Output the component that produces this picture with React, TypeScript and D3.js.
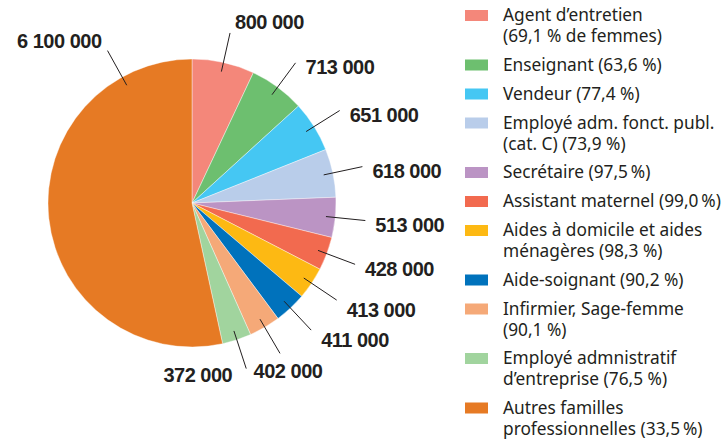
import React from "react";
import * as d3 from "d3";

const categories: string[] = [
  "Agent d\u2019entretien\n(69,1 % de femmes)",
  "Enseignant (63,6 %)",
  "Vendeur (77,4 %)",
  "Employé adm. fonct. publ.\n(cat. C) (73,9 %)",
  "Secrétaire (97,5\u202F%)",
  "Assistant maternel (99,0\u202F%)",
  "Aides à domicile et aides\nménagères (98,3 %)",
  "Aide-soignant (90,2 %)",
  "Infirmier, Sage-femme\n(90,1 %)",
  "Employé admnistratif\nd\u2019entreprise (76,5 %)",
  "Autres familles\nprofessionnelles (33,5\u202F%)",
];

const values: number[] = [800000, 713000, 651000, 618000, 513000, 428000, 413000, 411000, 402000, 372000, 6100000];

const colors: string[] = [
  "#f4877a",
  "#6dbf6f",
  "#45c7f3",
  "#b9cdea",
  "#bb94c4",
  "#f26a4f",
  "#fdb913",
  "#0072bc",
  "#f5a978",
  "#a1d49e",
  "#e67a24",
];

const W = 726;
const H = 439;
const cx = 192;
const cy = 203;
const R = 144;

const locale = d3.formatLocale({ decimal: ",", thousands: " ", grouping: [3], currency: ["", " €"] });
const fmt = locale.format(",d");

export default function App() {
  const data = values.map((v, i) => ({ v, i }));
  const pie = d3
    .pie<{ v: number; i: number }>()
    .value((d) => d.v)
    .sort(null)
    .startAngle(0)
    .endAngle(2 * Math.PI);
  const arcs = pie(data);
  const arcGen = d3.arc<d3.PieArcDatum<{ v: number; i: number }>>().innerRadius(0).outerRadius(R);

  const rIn = R * 0.935;
  const rOut = R * 1.21;

  const labelNodes = arcs.map((a) => {
    const span = a.endAngle - a.startAngle;
    // the large slice carries its label toward its upper end
    const ang = span > Math.PI ? a.endAngle - (29 * Math.PI) / 180 : (a.startAngle + a.endAngle) / 2;
    const s = Math.sin(ang);
    const c = Math.cos(ang);
    const x1 = cx + rIn * s;
    const y1 = cy - rIn * c;
    const x2 = cx + rOut * s;
    const y2 = cy - rOut * c;
    let anchor: "start" | "end" | "middle";
    let tx: number;
    let ty: number;
    if (c > 0.85) {
      anchor = s >= 0 ? "start" : "end";
      tx = x2 + (s >= 0 ? 5 : -6);
      ty = y2 - c * 11;
    } else if (s > 0.55) {
      anchor = "start";
      tx = x2 + 10;
      ty = y2 + (c < -0.5 ? 10 : 4);
    } else if (s > 0.4) {
      anchor = "middle";
      tx = x2 + 8;
      ty = y2 + 17;
    } else {
      anchor = "end";
      tx = x2 - 14;
      ty = y2 - c * 7;
    }
    return { x1, y1, x2, y2, anchor, tx, ty, text: fmt(a.data.v), key: a.data.i };
  });

  // legend layout
  const legendX = 465;
  const textX = 503;
  let base = 21;
  const legendItems = categories.map((c, i) => {
    const lines = c.split("\n");
    const item = { lines, y: base, color: colors[i], key: i };
    base += lines.length > 1 ? 49.5 : 29;
    return item;
  });

  return (
    <svg
      width={W}
      height={H}
      style={{ position: "absolute", left: 0, top: 0, background: "#fff" }}
      xmlns="http://www.w3.org/2000/svg"
    >
      <g>
        {arcs.map((a) => (
          <path key={a.data.i} d={arcGen(a) || ""} transform={`translate(${cx},${cy})`} fill={colors[a.data.i]} stroke="#ffffff" strokeWidth={0.4} />
        ))}
      </g>
      <g>
        {labelNodes.map((l) => (
          <g key={l.key}>
            <line x1={l.x1} y1={l.y1} x2={l.x2} y2={l.y2} stroke="#231f20" strokeWidth={1} />
            <text
              x={l.tx}
              y={l.ty}
              dy="0.36em"
              textAnchor={l.anchor}
              fontFamily="'Liberation Sans', Arial, sans-serif"
              fontWeight="bold"
              fontSize={20}
              letterSpacing={-0.5}
              fill="#231f20"
            >
              {l.text}
            </text>
          </g>
        ))}
      </g>
      <g>
        {legendItems.map((it) => (
          <g key={it.key}>
            <rect x={legendX} y={it.y - 11} width={23} height={11} fill={it.color} />
            {it.lines.map((ln, j) => (
              <text
                key={j}
                x={textX}
                y={it.y + j * 21}
                fontFamily="'Noto Sans', 'Open Sans', sans-serif"
                fontSize={17.3}
                fill="#231f20"
              >
                {ln}
              </text>
            ))}
          </g>
        ))}
      </g>
    </svg>
  );
}
